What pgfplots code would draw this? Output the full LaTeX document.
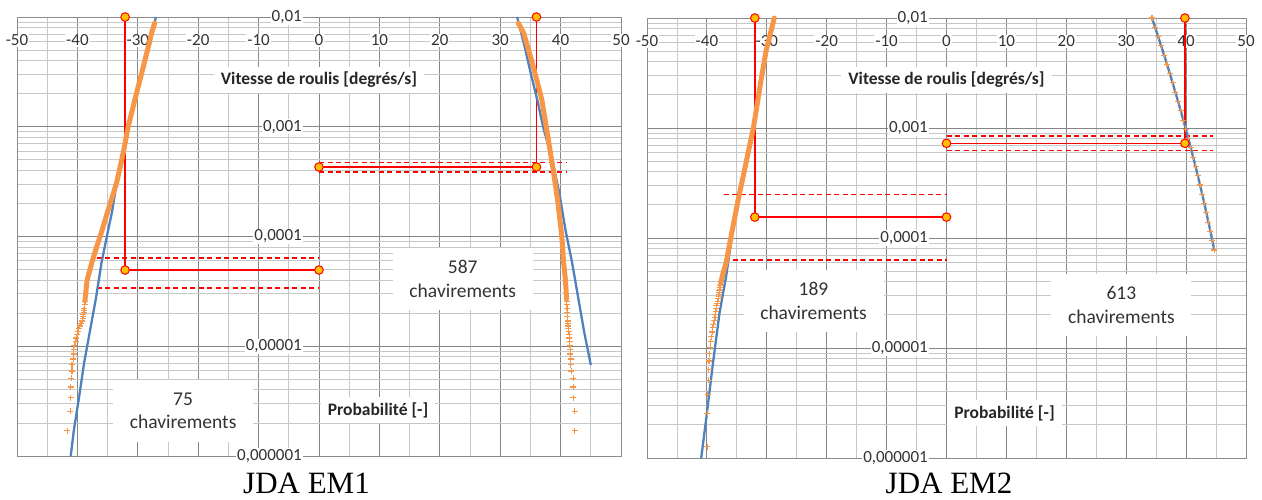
\documentclass[border=0pt]{standalone}
\usepackage{pgfplots}
\pgfplotsset{compat=1.18}
\usepackage{fontspec}
\setmainfont{Carlito}
\newfontfamily\tnr{Liberation Serif}
\definecolor{xlblue}{RGB}{79,129,189}
\definecolor{xlorange}{RGB}{247,150,70}
\definecolor{mkfill}{RGB}{255,192,0}
\definecolor{xlred}{RGB}{255,0,0}
\tikzset{
  myblue/.style={color=xlblue, line width=2.3pt},
  mydense/.style={color=xlorange, line width=5pt, line join=round, line cap=round},
  mytail/.style={color=xlorange, mark=+, mark size=3pt, mark options={color=xlorange, line width=1.1pt}},
  myredl/.style={color=xlred, line width=1.5pt},
  myredd/.style={color=xlred, line width=1.5pt, dash pattern=on 5pt off 3.5pt},
  mycirc/.style={mark=*, mark size=4.3pt, mark options={fill=mkfill, draw=xlred, line width=1pt}},
  mybox/.style={fill=white, align=center, font=\fontsize{19.5}{23.5}\selectfont, text=black!80, minimum width=140pt, minimum height=62pt},
  mytitle/.style={fill=white, font=\bfseries\fontsize{17.5}{20}\selectfont, text=black!85, inner xsep=7pt, inner ysep=5pt},
}
\begin{document}
\begin{tikzpicture}
\path[use as bounding box] (0pt,0pt) rectangle (1262pt,499pt);
% ---------------- Panel 1 ----------------
\begin{axis}[scale only axis, anchor=north west, clip=false,
    at={(17pt,482pt)}, width=604pt, height=439pt,
    xmin=-50, xmax=50, ymin=1e-6, ymax=1e-2, ymode=log,
    xtick={-50,-40,-30,-20,-10,0,10,20,30,40,50},
    xticklabels={-50,-40,-30,-20,-10,0,10,20,30,40,50},
    minor xtick={-45,-35,-25,-15,-5,5,15,25,35,45},
    ytick={1e-6,1e-5,1e-4,1e-3,1e-2},
    yticklabels={{0,000001},{0,00001},{0,0001},{0,001},{0,01}},
    minor ytick={2e-6,3e-6,4e-6,5e-6,6e-6,7e-6,8e-6,9e-6,
                 2e-5,3e-5,4e-5,5e-5,6e-5,7e-5,8e-5,9e-5,
                 2e-4,3e-4,4e-4,5e-4,6e-4,7e-4,8e-4,9e-4,
                 2e-3,3e-3,4e-3,5e-3,6e-3,7e-3,8e-3,9e-3},
    grid=both,
    major grid style={draw=black!48, line width=0.9pt},
    minor grid style={draw=black!22, line width=0.9pt},
    axis line style={draw=black!45, line width=0.9pt},
    major tick length=0pt, minor tick length=0pt,
    xticklabel pos=upper,
    tick label style={font=\fontsize{17}{20}\selectfont, text=black!80, fill=white, inner sep=1pt},
    xticklabel style={anchor=center, yshift=-23.5pt},
    yticklabel style={anchor=east, xshift=286pt}]
\addplot[myredl, no marks] coordinates {(-32.1,1e-2) (-32.1,4.95e-5) (0,4.95e-5)};
\addplot[myredd, no marks] coordinates {(-36.8,6.4e-5) (0,6.4e-5)};
\addplot[myredd, no marks] coordinates {(-36.8,3.4e-5) (0,3.4e-5)};
\addplot[myredl, no marks] coordinates {(36,1e-2) (36,4.3e-4) (0,4.3e-4)};
\addplot[myredd, no marks] coordinates {(0,4.7e-4) (41,4.7e-4)};
\addplot[myredd, no marks] coordinates {(0,3.87e-4) (41,3.87e-4)};
\addplot[myblue, no marks] coordinates {(-27.0,1e-2) (-28.3,5e-3) (-29.4,3e-3) (-30.6,1.6e-3) (-31.5,1e-3) (-32.5,6e-4) (-33.4,3.3e-4) (-34.3,1.64e-4) (-34.9,1.15e-4) (-36.0,5.8e-5) (-36.9,2.8e-5) (-37.9,1.4e-5) (-38.9,7e-6) (-39.7,3.5e-6) (-40.6,1.7e-6) (-41.1,1e-6)};
\addplot[myblue, no marks] coordinates {(32.8,1e-2) (34.0,5.5e-3) (35.1,3e-3) (36.2,1.7e-3) (37.1,1e-3) (38.6,5e-4) (39.8,2.47e-4) (40.8,1.15e-4) (41.9,5.8e-5) (42.9,2.8e-5) (43.9,1.35e-5) (45.0,6.75e-6)};
\addplot[mydense, no marks] coordinates {(-38.75,2.6e-5) (-38.4,4.0e-5) (-37.6,5.8e-5) (-36.8,8.1e-5) (-36.0,1.1e-4) (-34.9,1.75e-4) (-33.5,3.1e-4) (-32.3,6.2e-4) (-31.6,1e-3) (-30.5,1.75e-3) (-29.1,3.5e-3) (-27.6,7.5e-3) (-27.2,8.8e-3)};
\addplot[mytail, only marks] coordinates {(-41.7,1.7e-6) (-41.2,2.55e-6) (-41.1,3.4e-6) (-41.1,4.25e-6) (-41.0,5.1e-6) (-40.9,5.95e-6) (-40.9,6.8e-6) (-40.7,7.65e-6) (-40.6,8.5e-6) (-40.6,9.35e-6) (-40.5,1.02e-5) (-40.3,1.105e-5) (-40.2,1.19e-5) (-40.0,1.275e-5) (-39.9,1.36e-5) (-39.8,1.445e-5) (-39.6,1.53e-5) (-39.4,1.615e-5) (-39.2,1.7e-5) (-39.1,1.785e-5) (-39.0,1.87e-5) (-39.0,1.955e-5) (-38.9,2.04e-5) (-38.9,2.125e-5) (-38.85,2.21e-5) (-38.8,2.38e-5) (-38.75,2.55e-5)};
\addplot[mydense, no marks] coordinates {(41.0,2.7e-5) (40.8,4e-5) (40.5,5.8e-5) (40.2,1e-4) (39.5,2.16e-4) (38.7,4.3e-4) (37.8,8.7e-4) (36.9,1.75e-3) (35.5,3.5e-3) (33.9,7.1e-3) (33.0,8.8e-3)};
\addplot[mytail, only marks] coordinates {(42.3,1.7e-6) (42.3,2.55e-6) (42.1,3.4e-6) (42.1,4.25e-6) (42.1,5.1e-6) (41.8,5.95e-6) (41.7,6.8e-6) (41.7,7.65e-6) (41.6,8.5e-6) (41.6,9.35e-6) (41.5,1.02e-5) (41.5,1.105e-5) (41.45,1.19e-5) (41.4,1.275e-5) (41.35,1.36e-5) (41.3,1.445e-5) (41.3,1.53e-5) (41.2,1.615e-5) (41.2,1.7e-5) (41.1,1.87e-5) (41.1,2.04e-5) (41.05,2.21e-5) (41.0,2.38e-5) (41.0,2.55e-5)};
\addplot[mycirc, only marks] coordinates {(-32.1,1e-2) (-32.1,4.95e-5) (0,4.95e-5) (36,1e-2) (36,4.3e-4) (0,4.3e-4)};
\node[mytitle] at (axis cs:0,2.67e-3) {Vitesse de roulis [degrés/s]};
\node[mytitle] at (axis cs:9.77,2.62e-6) {Probabilité [-]};
\node[mybox] at (axis cs:-22.5,2.57e-6) {75\\chavirements};
\node[mybox] at (axis cs:23.8,4.1e-5) {587\\chavirements};
\end{axis}
% ---------------- Panel 2 ----------------
\begin{axis}[scale only axis, anchor=north west, clip=false,
    at={(647pt,481pt)}, width=599pt, height=440pt,
    xmin=-50, xmax=50, ymin=1e-6, ymax=1e-2, ymode=log,
    xtick={-50,-40,-30,-20,-10,0,10,20,30,40,50},
    xticklabels={-50,-40,-30,-20,-10,0,10,20,30,40,50},
    minor xtick={-45,-35,-25,-15,-5,5,15,25,35,45},
    ytick={1e-6,1e-5,1e-4,1e-3,1e-2},
    yticklabels={{0,000001},{0,00001},{0,0001},{0,001},{0,01}},
    minor ytick={2e-6,3e-6,4e-6,5e-6,6e-6,7e-6,8e-6,9e-6,
                 2e-5,3e-5,4e-5,5e-5,6e-5,7e-5,8e-5,9e-5,
                 2e-4,3e-4,4e-4,5e-4,6e-4,7e-4,8e-4,9e-4,
                 2e-3,3e-3,4e-3,5e-3,6e-3,7e-3,8e-3,9e-3},
    grid=both,
    major grid style={draw=black!48, line width=0.9pt},
    minor grid style={draw=black!22, line width=0.9pt},
    axis line style={draw=black!45, line width=0.9pt},
    major tick length=0pt, minor tick length=0pt,
    xticklabel pos=upper,
    tick label style={font=\fontsize{17}{20}\selectfont, text=black!80, fill=white, inner sep=1pt},
    xticklabel style={anchor=center, yshift=-23.5pt},
    yticklabel style={anchor=east, xshift=282pt}]
\addplot[myredl, no marks] coordinates {(-32,1e-2) (-32,1.55e-4) (0,1.55e-4)};
\addplot[myredd, no marks] coordinates {(-37.2,2.49e-4) (0,2.49e-4)};
\addplot[myredd, no marks] coordinates {(-35.7,6.3e-5) (0,6.3e-5)};
\addplot[myredl, no marks] coordinates {(39.8,1e-2) (39.8,7.26e-4) (0,7.26e-4)};
\addplot[myredd, no marks] coordinates {(0,8.45e-4) (44.5,8.45e-4)};
\addplot[myredd, no marks] coordinates {(0,6.22e-4) (44.5,6.22e-4)};
\addplot[myblue, no marks] coordinates {(-28.8,1e-2) (-30.1,5.1e-3) (-31.05,2.55e-3) (-32.2,1.03e-3) (-33.5,4.5e-4) (-34.7,2.2e-4) (-35.7,1.15e-4) (-36.8,4.45e-5) (-37.9,2.07e-5) (-39.0,7.2e-6) (-40.0,2.55e-6) (-40.95,1e-6)};
\addplot[mydense, no marks] coordinates {(-37.7,3.9e-5) (-37.3,4.8e-5) (-36.8,5.9e-5) (-36.3,8.3e-5) (-35.8,1.15e-4) (-34.8,2.2e-4) (-33.6,4.45e-4) (-32.2,1.03e-3) (-31.05,2.55e-3) (-30.1,5.1e-3) (-28.75,1e-2)};
\addplot[mytail, only marks] coordinates {(-39.95,1.27e-6) (-39.95,2.54e-6) (-39.85,3.81e-6) (-39.7,5.08e-6) (-39.7,6.35e-6) (-39.65,7.62e-6) (-39.6,8.89e-6) (-39.45,1.016e-5) (-39.4,1.143e-5) (-39.3,1.27e-5) (-39.1,1.397e-5) (-39.0,1.524e-5) (-38.9,1.651e-5) (-38.75,1.778e-5) (-38.65,1.905e-5) (-38.6,2.032e-5) (-38.5,2.159e-5) (-38.4,2.286e-5) (-38.4,2.413e-5) (-38.25,2.54e-5) (-38.2,2.667e-5) (-38.1,2.794e-5) (-38.05,2.921e-5) (-38.0,3.048e-5) (-37.95,3.175e-5) (-37.9,3.302e-5) (-37.85,3.429e-5) (-37.8,3.556e-5) (-37.75,3.683e-5) (-37.7,3.81e-5)};
\addplot[myblue, no marks] coordinates {(34.30,1e-2) (34.82,8.24e-3) (35.33,6.78e-3) (35.83,5.58e-3) (36.33,4.60e-3) (36.81,3.79e-3) (37.29,3.12e-3) (37.75,2.57e-3) (38.21,2.11e-3) (38.66,1.74e-3) (39.10,1.43e-3) (39.54,1.18e-3) (39.96,9.72e-4) (40.38,8.00e-4) (40.78,6.59e-4) (41.18,5.43e-4) (41.57,4.47e-4) (41.95,3.68e-4) (42.33,3.03e-4) (42.69,2.50e-4) (43.05,2.06e-4) (43.39,1.69e-4) (43.73,1.39e-4) (44.06,1.15e-4) (44.38,9.45e-5) (44.70,7.78e-5)};
\addplot[mytail, only marks] coordinates {(34.30,1e-2) (34.82,8.24e-3) (35.33,6.78e-3) (35.83,5.58e-3) (36.33,4.60e-3) (36.81,3.79e-3) (37.29,3.12e-3) (37.75,2.57e-3) (38.21,2.11e-3) (38.66,1.74e-3) (39.10,1.43e-3) (39.54,1.18e-3) (39.96,9.72e-4) (40.38,8.00e-4) (40.78,6.59e-4) (41.18,5.43e-4) (41.57,4.47e-4) (41.95,3.68e-4) (42.33,3.03e-4) (42.69,2.50e-4) (43.05,2.06e-4) (43.39,1.69e-4) (43.73,1.39e-4) (44.06,1.15e-4) (44.38,9.45e-5) (44.70,7.78e-5)};
\addplot[mycirc, only marks] coordinates {(-32,1e-2) (-32,1.55e-4) (0,1.55e-4) (39.8,1e-2) (39.8,7.26e-4) (0,7.26e-4)};
\node[mytitle] at (axis cs:0,2.73e-3) {Vitesse de roulis [degrés/s]};
\node[mytitle] at (axis cs:9.68,2.57e-6) {Probabilité [-]};
\node[mybox] at (axis cs:-22.2,2.67e-5) {189\\chavirements};
\node[mybox] at (axis cs:29.2,2.46e-5) {613\\chavirements};
\end{axis}
\node[anchor=base, font=\tnr\fontsize{31}{31}\selectfont] at (306.5pt,6pt) {JDA EM1};
\node[anchor=base, font=\tnr\fontsize{31}{31}\selectfont] at (949pt,6pt) {JDA EM2};
\end{tikzpicture}
\end{document}
